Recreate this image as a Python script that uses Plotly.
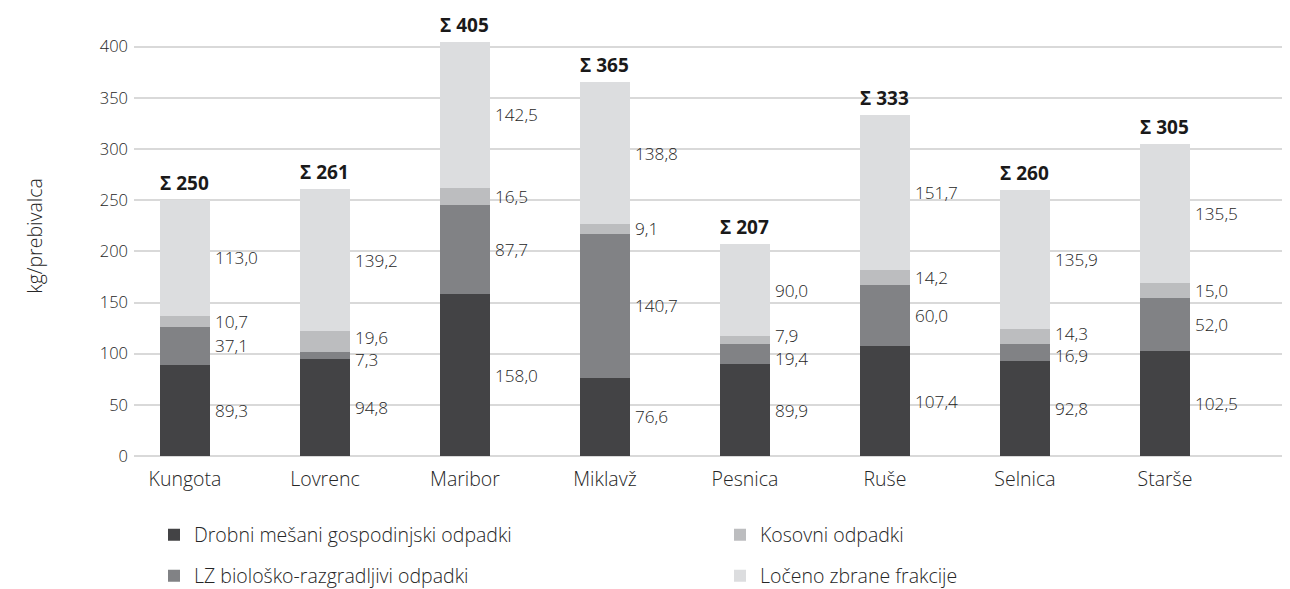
import plotly.graph_objects as go

# ---------------- data ----------------
municipalities = ["Kungota", "Lovrenc", "Maribor", "Miklavž", "Pesnica", "Ruše", "Selnica", "Starše"]
drobni = [89.3, 94.8, 158.0, 76.6, 89.9, 107.4, 92.8, 102.5]
lz_bio = [37.1, 7.3, 87.7, 140.7, 19.4, 60.0, 16.9, 52.0]
kosovni = [10.7, 19.6, 16.5, 9.1, 7.9, 14.2, 14.3, 15.0]
loceno = [113.0, 139.2, 142.5, 138.8, 90.0, 151.7, 135.9, 135.5]
series_names = [
    "Drobni mešani gospodinjski odpadki",
    "LZ biološko-razgradljivi odpadki",
    "Kosovni odpadki",
    "Ločeno zbrane frakcije",
]
y_title = "kg/prebivalca"

# ---------------- style ----------------
colors = ["#434345", "#818285", "#bcbdbf", "#dcdddf"]
FONT = "Open Sans"
TXT = "#262626"
WEIGHT = 300
NUM_SIZE = 17.2
TICK_NUM_SIZE = 16.5
TXT_SIZE = 19.5
BAR_W = 0.357
W, H = 1290, 589
OFF = 8  # page body margin offset of the figure div
# desired on-screen plot box: left 134, right 1290, top 16, bottom 455.6
L = 134 - OFF
T = 16 - OFF
R = W - (1290 - OFF)
B = H - (455.6 - OFF)

series = [drobni, lz_bio, kosovni, loceno]
legend_ids = ["legend", "legend3", "legend2", "legend4"]


def fnt(size, color=TXT, weight=WEIGHT):
    return dict(family=FONT, size=size, color=color, weight=weight)


fig = go.Figure()
for name, vals, col, lg in zip(series_names, series, colors, legend_ids):
    fig.add_trace(go.Bar(
        x=municipalities, y=vals, name=name, width=BAR_W,
        marker=dict(color=col, line=dict(width=0)),
        legend=lg, hoverinfo="x+y+name",
    ))

# ---------------- labels ----------------
annotations = []
MIN_GAP = 22.0
for i, m in enumerate(municipalities):
    vals = [s[i] for s in series]
    base = 0.0
    mids = []
    for v in vals:
        mids.append(base + v / 2)
        base += v
    total = base
    # simple collision resolution between neighbouring labels
    for _ in range(30):
        moved = False
        for j in range(1, len(mids)):
            d = mids[j] - mids[j - 1]
            if d < MIN_GAP - 1e-9:
                push = (MIN_GAP - d) / 2
                mids[j - 1] -= push
                mids[j] += push
                moved = True
        if not moved:
            break
    for v, yv in zip(vals, mids):
        annotations.append(dict(
            x=i + BAR_W / 2, y=yv, xref="x", yref="y",
            text=f"{v:.1f}".replace(".", ","), showarrow=False,
            xanchor="left", yanchor="middle", xshift=3,
            font=fnt(NUM_SIZE),
        ))
    annotations.append(dict(
        x=i, y=total, xref="x", yref="y",
        text=f"<b>Σ {round(total)}</b>", showarrow=False,
        xanchor="center", yanchor="bottom", yshift=2,
        font=fnt(19, "#1a1a1a", 700),
    ))

# ---------------- legends ----------------
leg_common = dict(orientation="h", xanchor="left", yanchor="middle",
                  xref="container", yref="container",
                  font=fnt(TXT_SIZE),
                  bgcolor="rgba(0,0,0,0)", borderwidth=0)
col1, col2 = 154, 720      # on-screen x of legend entries
row1, row2 = 535, 576      # on-screen y of legend rows


def cx(p):
    return (p - OFF) / W


def cy(p):
    return 1 - (p - OFF) / H


legends = {
    "legend": dict(x=cx(col1), y=cy(row1), **leg_common),
    "legend2": dict(x=cx(col2), y=cy(row1), **leg_common),
    "legend3": dict(x=cx(col1), y=cy(row2), **leg_common),
    "legend4": dict(x=cx(col2), y=cy(row2), **leg_common),
}

fig.update_layout(
    width=W, height=H,
    margin=dict(l=L, r=R, t=T, b=B, autoexpand=False),
    barmode="stack",
    plot_bgcolor="white", paper_bgcolor="white",
    font=fnt(NUM_SIZE),
    annotations=annotations,
    showlegend=True,
    **legends,
)
fig.update_xaxes(
    type="category", range=[-0.364, 7.893],
    showgrid=False, showline=False, zeroline=False,
    ticks="", ticklabelstandoff=9,
    tickfont=fnt(TXT_SIZE),
)
fig.update_yaxes(
    range=[0, 430], dtick=50, tick0=0,
    showgrid=True, gridcolor="#d9d9d9", gridwidth=2,
    zeroline=True, zerolinecolor="#d9d9d9", zerolinewidth=2,
    showline=False, ticks="", ticklabelstandoff=5,
    tickfont=fnt(TICK_NUM_SIZE),
    title=dict(text=y_title, standoff=51, font=fnt(TXT_SIZE)),
)

fig.write_html("out.html")
